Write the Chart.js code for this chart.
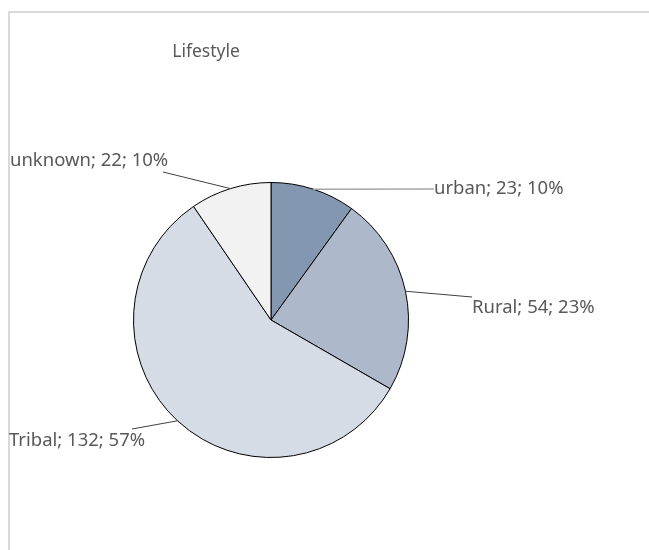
<!DOCTYPE html>
<html>
<head>
<meta charset="utf-8">
<script src="https://cdn.jsdelivr.net/npm/chart.js@4"></script>
<style>
  body { margin: 0; background: #fff; }
  #wrap { position: relative; width: 649px; height: 550px; overflow: hidden; }
  #frame { position: absolute; left: 8px; top: 11px; width: 700px; height: 600px;
           border-left: 2px solid #d9d9d9; border-top: 2px solid #d9d9d9; }
  #lifestyleChart { position: absolute; left: 0; top: 0; }
</style>
</head>
<body>
<div id="wrap">
  <div id="frame"></div>
  <canvas id="lifestyleChart" width="649" height="550"></canvas>
</div>
<script>
const categories = ["urban", "Rural", "Tribal", "unknown"];
const counts = [23, 54, 132, 22];
const percents = [10, 23, 57, 10];
const sliceColors = ["#8497b0", "#adb9ca", "#d6dce5", "#f2f2f2"];

// where each leader line ends and its label sits, relative to the pie centre
const labelSpots = [
  { end: [163, -131], text: [163, -131], line: "#a6a6a6", lw: 1.5 },
  { end: [201, -23], text: [201, -12], line: "#404040", lw: 1 },
  { end: [-139, 109], text: [-262, 121], line: "#404040", lw: 1 },
  { end: [-108, -148], text: [-261, -159], line: "#404040", lw: 1 }
];

const font = '"Noto Sans", sans-serif';

const pieLabels = {
  id: "pieLabels",
  afterDatasetsDraw(chart) {
    const c = chart.ctx;
    const arcs = chart.getDatasetMeta(0).data;
    c.save();
    arcs.forEach((arc, i) => {
      const mid = (arc.startAngle + arc.endAngle) / 2;
      const sx = arc.x + arc.outerRadius * Math.cos(mid);
      const sy = arc.y + arc.outerRadius * Math.sin(mid);
      const spot = labelSpots[i];
      c.strokeStyle = spot.line;
      c.lineWidth = spot.lw;
      c.beginPath();
      c.moveTo(sx, sy);
      c.lineTo(arc.x + spot.end[0], arc.y + spot.end[1]);
      c.stroke();
      c.fillStyle = "#595959";
      c.font = "18.5px " + font;
      c.textAlign = "left";
      c.textBaseline = "middle";
      c.fillText(categories[i] + "; " + counts[i] + "; " + percents[i] + "%",
        arc.x + spot.text[0], arc.y + spot.text[1]);
    });
    // title
    c.fillStyle = "#595959";
    c.font = "17.5px " + font;
    c.textAlign = "center";
    c.fillText("Lifestyle", 206, 52);
    c.restore();
  }
};

new Chart(document.getElementById("lifestyleChart"), {
  type: "pie",
  data: {
    labels: categories,
    datasets: [{
      data: counts,
      backgroundColor: sliceColors,
      borderColor: "#000000",
      borderWidth: 1
    }]
  },
  options: {
    responsive: false,
    animation: false,
    layout: { padding: { left: 133, right: 240, top: 182, bottom: 92 } },
    plugins: {
      legend: { display: false },
      tooltip: { enabled: false },
      title: { display: false }
    }
  },
  plugins: [pieLabels]
});
</script>
</body>
</html>
